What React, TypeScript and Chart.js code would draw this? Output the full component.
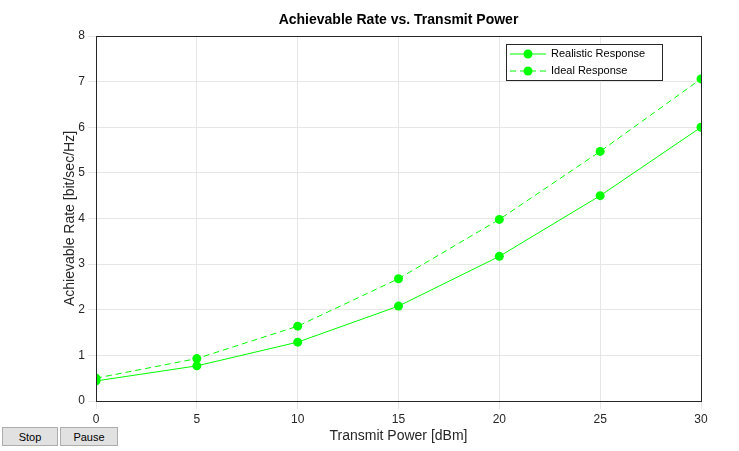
import { useEffect, useRef } from "react";
import { Chart, registerables } from "chart.js";

Chart.register(...registerables);

const powers = [0, 5, 10, 15, 20, 25, 30];
const realistic = [0.44, 0.77, 1.29, 2.08, 3.17, 4.5, 6.0];
const ideal = [0.5, 0.93, 1.64, 2.68, 3.98, 5.47, 7.06];
const seriesNames = ["Realistic Response", "Ideal Response"];

const GREEN = "#00ff00";
const FONT = "Liberation Sans, Arial, sans-serif";

const framePlugin = {
  id: "frame",
  afterDraw(chart: any) {
    const { ctx, chartArea: a } = chart;
    ctx.save();
    ctx.strokeStyle = "#262626";
    ctx.lineWidth = 1;
    ctx.strokeRect(a.left + 0.5, a.top + 0.5, a.right - a.left, a.bottom - a.top);
    // title and axis titles
    ctx.fillStyle = "#000";
    ctx.font = `bold 14px ${FONT}`;
    ctx.textAlign = "center";
    ctx.textBaseline = "middle";
    ctx.fillText("Achievable Rate vs. Transmit Power", (a.left + a.right) / 2, 20);
    ctx.fillStyle = "#262626";
    ctx.font = `14px ${FONT}`;
    ctx.fillText("Transmit Power [dBm]", (a.left + a.right) / 2, a.bottom + 35);
    ctx.save();
    ctx.translate(a.left - 26, (a.top + a.bottom) / 2);
    ctx.rotate(-Math.PI / 2);
    ctx.fillText("Achievable Rate [bit/sec/Hz]", 0, 0);
    ctx.restore();
    // legend
    const lx = a.right - 195, ly = a.top + 8, lw = 156, lh = 36;
    ctx.fillStyle = "#fff";
    ctx.fillRect(lx, ly, lw, lh);
    ctx.strokeRect(lx + 0.5, ly + 0.5, lw, lh);
    ctx.font = `11px ${FONT}`;
    ctx.textAlign = "left";
    seriesNames.forEach((name, i) => {
      const y = ly + 10 + i * 17;
      ctx.strokeStyle = GREEN;
      ctx.setLineDash(i === 1 ? [6, 4] : []);
      ctx.beginPath();
      ctx.moveTo(lx + 4, y);
      ctx.lineTo(lx + 40, y);
      ctx.stroke();
      ctx.setLineDash([]);
      ctx.fillStyle = GREEN;
      ctx.beginPath();
      ctx.arc(lx + 22, y, 4.5, 0, Math.PI * 2);
      ctx.fill();
      ctx.fillStyle = "#000";
      ctx.fillText(name, lx + 45, y);
    });
    ctx.restore();
  },
};

export default function App() {
  const ref = useRef<HTMLCanvasElement>(null);
  useEffect(() => {
    if (!ref.current) return;
    const chart = new Chart(ref.current, {
      type: "line",
      data: {
        datasets: [
          {
            label: seriesNames[0],
            data: powers.map((x, i) => ({ x, y: realistic[i] })),
            borderColor: GREEN,
            backgroundColor: GREEN,
            borderWidth: 1,
            pointRadius: 4.5,
            pointBorderWidth: 0,
          },
          {
            label: seriesNames[1],
            data: powers.map((x, i) => ({ x, y: ideal[i] })),
            borderColor: GREEN,
            backgroundColor: GREEN,
            borderWidth: 1,
            borderDash: [6, 4],
            pointRadius: 4.5,
            pointBorderWidth: 0,
          },
        ],
      },
      options: {
        animation: false,
        responsive: false,
        layout: { padding: { top: 36, right: 38, left: 0, bottom: 0 } },
        plugins: { legend: { display: false }, tooltip: { enabled: false } },
        scales: {
          x: {
            type: "linear",
            min: 0,
            max: 30,
            ticks: { stepSize: 5, color: "#262626", font: { size: 12, family: FONT } },
            grid: { color: "#e6e6e6" },
            border: { color: "#262626" },
            afterFit(s: any) { s.height = 50; },
          },
          y: {
            min: 0,
            max: 8,
            ticks: { stepSize: 1, color: "#262626", font: { size: 12, family: FONT } },
            grid: { color: "#e6e6e6" },
            border: { color: "#262626" },
            afterFit(s: any) { s.width = 96; },
          },
        },
      },
      plugins: [framePlugin],
    });
    return () => chart.destroy();
  }, []);

  const btn: any = {
    position: "absolute",
    top: 427,
    height: 19,
    background: "#e1e1e1",
    border: "1px solid #adadad",
    fontSize: 11,
    fontFamily: FONT,
    padding: 0,
  };
  return (
    <div style={{ position: "absolute", left: 0, top: 0, width: 739, height: 451, background: "#fff" }}>
      <canvas ref={ref} width={739} height={451} style={{ position: "absolute", left: 0, top: 0 }} />
      <button style={{ ...btn, left: 2, width: 56 }}>Stop</button>
      <button style={{ ...btn, left: 60, width: 58 }}>Pause</button>
    </div>
  );
}
